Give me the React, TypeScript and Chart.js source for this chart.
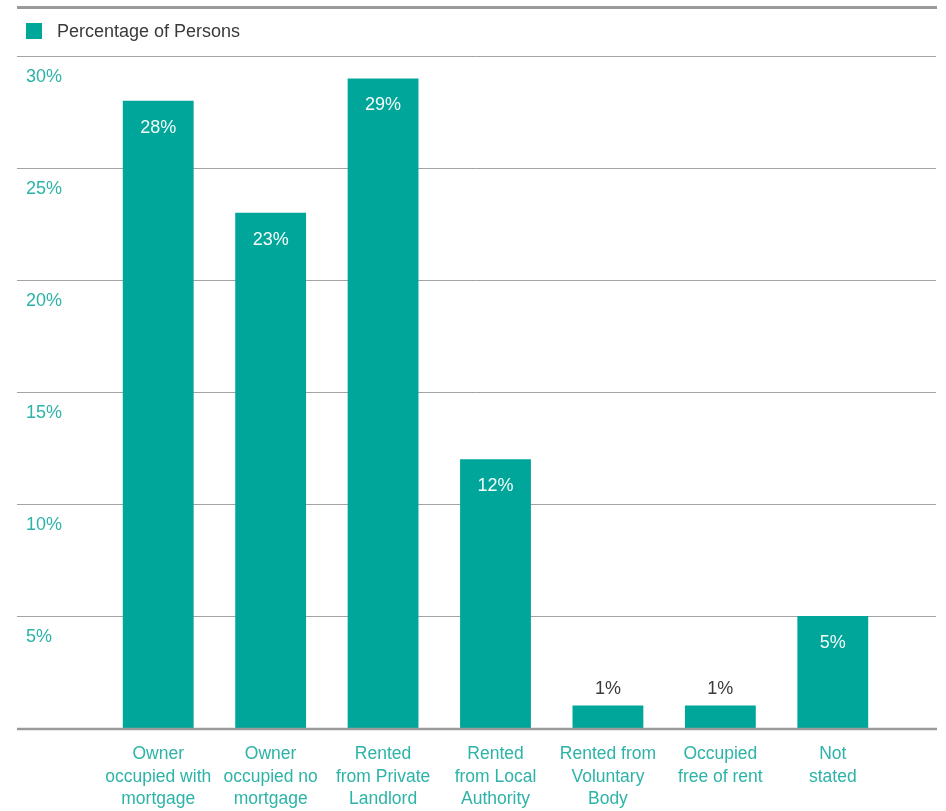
import React, { useEffect, useRef } from 'react';
import { Chart, registerables } from 'chart.js';

Chart.register(...registerables);

const categories: string[][] = [
  ['Owner', 'occupied with', 'mortgage'],
  ['Owner', 'occupied no', 'mortgage'],
  ['Rented', 'from Private', 'Landlord'],
  ['Rented', 'from Local', 'Authority'],
  ['Rented from', 'Voluntary', 'Body'],
  ['Occupied', 'free of rent'],
  ['Not', 'stated'],
];
const values: number[] = [28, 23, 29, 12, 1, 1, 5];
const seriesLabel = 'Percentage of Persons';
const yMin = 0;
const yMax = 30;
const yStep = 5;

const BAR = '#00a69a';
const TEAL_TEXT = '#2db3a7';
const GRID = '#a3a3a3';
const FONT = "'Liberation Sans', Arial, Helvetica, sans-serif";

const decor = {
  id: 'decor',
  beforeDatasetsDraw(chart: any) {
    const ctx = chart.ctx as CanvasRenderingContext2D;
    const y = chart.scales.y;
    ctx.save();
    // top rule
    ctx.strokeStyle = '#9a9a9a';
    ctx.lineWidth = 3;
    ctx.beginPath();
    ctx.moveTo(17, 7.5);
    ctx.lineTo(937, 7.5);
    ctx.stroke();
    // grid lines
    ctx.strokeStyle = GRID;
    ctx.lineWidth = 1;
    y.ticks.forEach((t: any) => {
      if (t.value === yMin) return;
      const py = Math.round(y.getPixelForValue(t.value)) + 0.5;
      ctx.beginPath();
      ctx.moveTo(17, py);
      ctx.lineTo(936, py);
      ctx.stroke();
    });
    // legend
    const ds = chart.data.datasets[0];
    ctx.fillStyle = ds.backgroundColor;
    ctx.fillRect(26, 23, 16, 16);
    ctx.fillStyle = '#3a3a3a';
    ctx.font = `18px ${FONT}`;
    ctx.textAlign = 'left';
    ctx.textBaseline = 'middle';
    ctx.fillText(ds.label, 57, 32.5);
    ctx.restore();
  },
  afterDatasetsDraw(chart: any) {
    const ctx = chart.ctx as CanvasRenderingContext2D;
    const y = chart.scales.y;
    ctx.save();
    const y0 = y.getPixelForValue(yMin);
    ctx.strokeStyle = '#9a9a9a';
    ctx.lineWidth = 2.5;
    ctx.beginPath();
    ctx.moveTo(17, y0 + 1);
    ctx.lineTo(937, y0 + 1);
    ctx.stroke();
    // data labels
    const meta = chart.getDatasetMeta(0);
    const data = chart.data.datasets[0].data as number[];
    ctx.font = `18px ${FONT}`;
    ctx.textAlign = 'center';
    ctx.textBaseline = 'middle';
    meta.data.forEach((bar: any, i: number) => {
      const v = data[i];
      if (v >= 3) {
        ctx.fillStyle = '#f4fbfa';
        ctx.fillText(v + '%', bar.x, bar.y + 27);
      } else {
        ctx.fillStyle = '#3a3a3a';
        ctx.fillText(v + '%', bar.x, bar.y - 17);
      }
    });
    ctx.restore();
  },
};

export default function App() {
  const ref = useRef<HTMLCanvasElement | null>(null);
  useEffect(() => {
    document.body.style.margin = '0';
    const canvas = ref.current;
    if (!canvas) return;
    const chart = new Chart(canvas, {
      type: 'bar',
      data: {
        labels: categories,
        datasets: [
          {
            label: seriesLabel,
            data: values,
            backgroundColor: BAR,
            borderWidth: 0,
            barPercentage: 0.63,
            categoryPercentage: 1,
          },
        ],
      },
      options: {
        responsive: false,
        animation: false,
        layout: { padding: { left: 26, right: 57, top: 56, bottom: 0 } },
        plugins: {
          legend: { display: false },
          tooltip: { enabled: false },
        },
        scales: {
          x: {
            grid: { display: false, drawTicks: false },
            border: { display: false },
            ticks: {
              color: TEAL_TEXT,
              font: { family: FONT, size: 17.5, lineHeight: 1.29 },
              padding: 15,
              maxRotation: 0,
              autoSkip: false,
            },
            afterFit(scale: any) {
              scale.height = 83;
              scale.paddingLeft = 0;
              scale.paddingRight = 0;
            },
          },
          y: {
            min: yMin,
            max: yMax,
            grid: { display: false, drawTicks: false },
            border: { display: false },
            ticks: {
              stepSize: yStep,
              color: TEAL_TEXT,
              font: { family: FONT, size: 18 },
              crossAlign: 'far',
              labelOffset: 21.5,
              padding: 0,
              callback: (v: any) => (v === yMin ? null : v + '%'),
            },
            afterFit(scale: any) {
              scale.width = 76;
              scale.paddingTop = 0;
              scale.paddingBottom = 0;
            },
          },
        },
      },
      plugins: [decor],
    });
    return () => chart.destroy();
  }, []);
  return (
    <div style={{ width: 946, height: 811, overflow: 'hidden', background: '#fff' }}>
      <canvas ref={ref} width={946} height={811} style={{ display: 'block' }} />
    </div>
  );
}
